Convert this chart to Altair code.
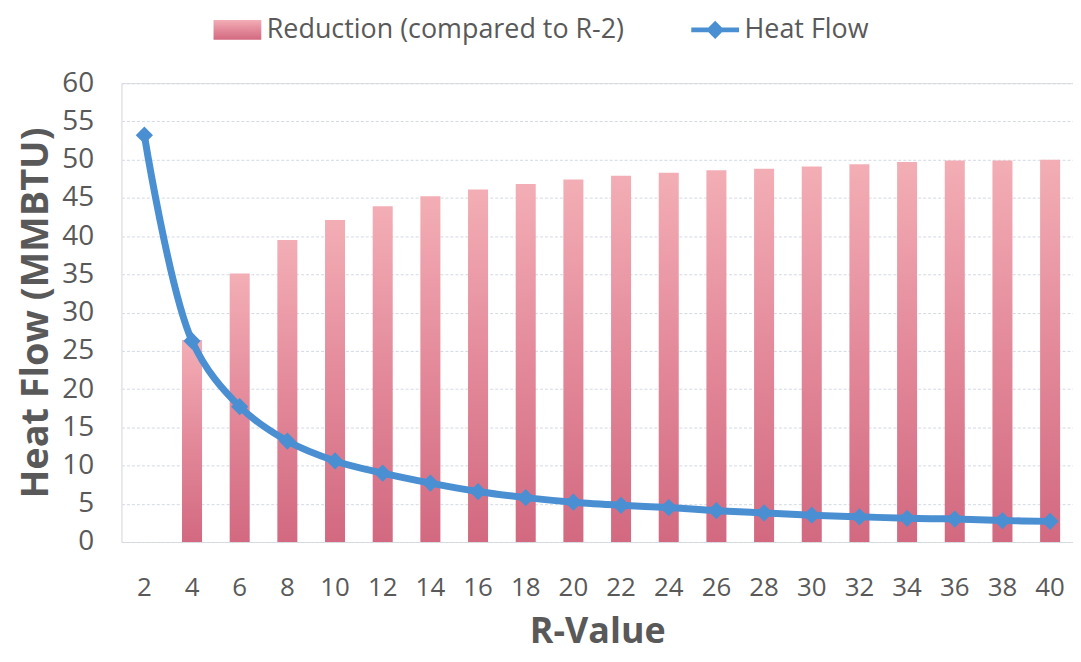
import altair as alt
import pandas as pd

r_values = [2, 4, 6, 8, 10, 12, 14, 16, 18, 20, 22, 24, 26, 28, 30, 32, 34, 36, 38, 40]
heat_flow = [53.2, 26.3, 17.7, 13.2, 10.6, 9.0, 7.7, 6.6, 5.8, 5.2, 4.8, 4.5, 4.1, 3.8, 3.5, 3.3, 3.1, 3.0, 2.8, 2.7]
reduction = [0, 26.4, 35.1, 39.5, 42.1, 43.9, 45.2, 46.1, 46.8, 47.4, 47.9, 48.3, 48.6, 48.8, 49.1, 49.4, 49.7, 49.9, 49.9, 50.0]
y_ticks = [0, 5, 10, 15, 20, 25, 30, 35, 40, 45, 50, 55, 60]

bar_name = "Reduction (compared to R-2)"
line_name = "Heat Flow"

df = pd.DataFrame({
    "R": r_values,
    "heat": heat_flow,
    "red": reduction,
    "bar_series": [bar_name] * len(r_values),
    "line_series": [line_name] * len(r_values),
})

FONT = "Open Sans"
GRAY = "#595959"
BLUE = "#4a8fd2"

x_enc = alt.X(
    "R:O",
    sort=r_values,
    scale=alt.Scale(paddingInner=0.58, paddingOuter=0.27),
    axis=alt.Axis(
        title="R-Value", labelAngle=0, ticks=False, domain=False, grid=False,
        labelFontSize=26, labelColor=GRAY, labelFont=FONT, labelPadding=33,
        titleFontSize=36, titleFont=FONT, titleFontWeight="bold", titleColor=GRAY,
        titlePadding=14,
    ),
)

y_axis = alt.Axis(
    title="Heat Flow (MMBTU)", values=y_ticks, tickCount=13, ticks=False,
    domain=True, domainColor="#e2e6ec", domainWidth=1,
    labelOverlap=False,
    gridColor="#d3d9e3", gridDash=[3, 2], gridWidth=1,
    labelFontSize=28, labelColor=GRAY, labelFont=FONT, labelPadding=28,
    titleFontSize=38, titleFont=FONT, titleFontWeight="bold", titleColor=GRAY,
    titlePadding=6,
)
y_scale = alt.Scale(domain=[0, 60], nice=False)

gradient = alt.Gradient(
    gradient="linear",
    stops=[alt.GradientStop(color="#f3aeb5", offset=0),
           alt.GradientStop(color="#e3899a", offset=0.5),
           alt.GradientStop(color="#d26980", offset=1)],
    x1=0, x2=0, y1=0, y2=1,
)

bars = alt.Chart(df).mark_bar(fill=gradient, strokeWidth=0).encode(
    x=x_enc,
    y=alt.Y("red:Q", scale=y_scale, axis=y_axis),
    opacity=alt.Opacity(
        "bar_series:N",
        scale=alt.Scale(range=[1]),
        legend=alt.Legend(
            title=None, orient="none", legendX=103, legendY=-67,
            symbolType="M-2,-0.83L2,-0.83L2,0.83L-2,0.83Z", symbolSize=576,
            symbolFillColor="#e8939f", symbolStrokeWidth=0, symbolOpacity=1,
            labelFontSize=27, labelFont=FONT, labelColor=GRAY, labelOffset=16,
            labelLimit=1000, padding=0,
        ),
    ),
)

line = alt.Chart(df).mark_line(
    strokeWidth=7, interpolate="catmull-rom",
    point=alt.OverlayMarkDef(shape="diamond", size=300, filled=True, color="#5a9fdf"),
).encode(
    x=x_enc,
    y=alt.Y("heat:Q", scale=y_scale, axis=y_axis),
    color=alt.Color(
        "line_series:N",
        scale=alt.Scale(range=[BLUE]),
        legend=alt.Legend(
            title=None, orient="none", legendX=583, legendY=-67,
            symbolType="M-2,-0.2L-0.56,-0.2L0,-0.76L0.56,-0.2L2,-0.2L2,0.2L0.56,0.2L0,0.76L-0.56,0.2L-2,0.2Z",
            symbolSize=576, symbolFillColor=BLUE, symbolStrokeColor=BLUE, symbolStrokeWidth=0,
            labelFontSize=27, labelFont=FONT, labelColor=GRAY, labelOffset=16,
            labelLimit=1000, padding=0,
        ),
    ),
)

chart = alt.layer(bars, line).properties(
    width=956, height=461,
    padding={"left": 114, "top": 74, "right": 0, "bottom": 110},
    autosize=alt.AutoSizeParams(type="none"),
).configure_view(stroke=None).configure(background="white")

chart.save("out.html", embed_options={"renderer": "svg", "actions": False})
